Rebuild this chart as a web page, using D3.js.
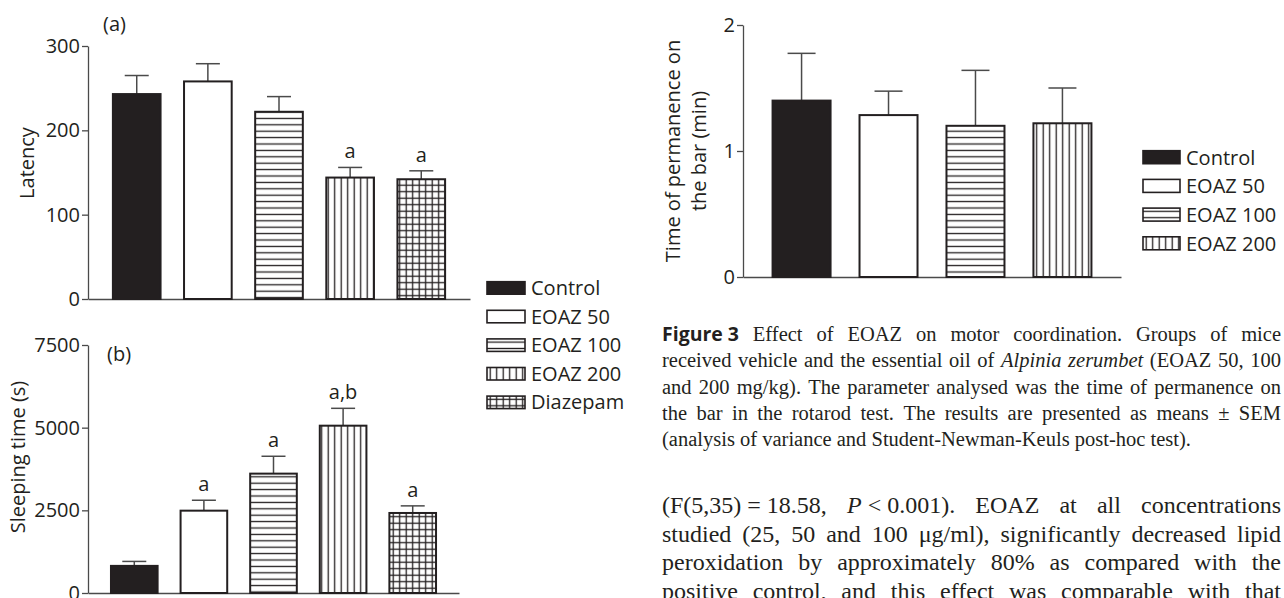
<!DOCTYPE html>
<html>
<head>
<meta charset="utf-8">
<script src="https://cdnjs.cloudflare.com/ajax/libs/d3/7.8.5/d3.min.js"></script>
<style>
  html, body { margin: 0; padding: 0; background: #fff; }
  svg { display: block; }
</style>
</head>
<body>
<svg id="fig" width="1284" height="598"></svg>
<script>
// ---- data ----
const groups = ["Control", "EOAZ 50", "EOAZ 100", "EOAZ 200", "Diazepam"];

// (a) latency
const latencyMean = [243, 258, 222, 144, 142];
const latencySem = [22, 21, 18, 12, 10];
const latencySig = ["", "", "", "a", "a"];
const latencyTicks = [0, 100, 200, 300];

// (b) sleeping time
const sleepMean = [820, 2490, 3610, 5060, 2420];
const sleepSem = [135, 315, 525, 525, 215];
const sleepSig = ["", "a", "a", "a,b", "a"];
const sleepTicks = [0, 2500, 5000, 7500];

// Figure 3 rotarod
const rotarodGroups = ["Control", "EOAZ 50", "EOAZ 100", "EOAZ 200"];
const rotarodMean = [1.40, 1.285, 1.20, 1.22];
const rotarodSem = [0.375, 0.19, 0.44, 0.28];
const rotarodTicks = [0, 1, 2];

// caption + body text ("~" = fixed space, "_" = italic, "^" = bold sans, "|" = run break)
const captionLines = [
  "^Figure~3 Effect of EOAZ on motor coordination. Groups of mice",
  "received vehicle and the essential oil of _Alpinia _zerumbet (EOAZ 50, 100",
  "and 200 mg/kg). The parameter analysed was the time of permanence on",
  "the bar in the rotarod test. The results are presented as means ± SEM",
  "(analysis of variance and Student-Newman-Keuls post-hoc test)."
];
const bodyLines = [
  "(F(5,35)~=~18.58, _P|~<~0.001). EOAZ at all concentrations",
  "studied (25, 50 and 100 μg/ml), significantly decreased lipid",
  "peroxidation by approximately 80% as compared with the",
  "positive control, and this effect was comparable with that"
];

// ---- setup ----
const svg = d3.select("#fig");
const INK = "#231f20";
const AXIS = "#4a4a4a";
const SANS = "'Open Sans', 'Noto Sans', sans-serif";
const SERIF = "'Liberation Serif', 'Times New Roman', serif";

const defs = svg.append("defs");

function pattern(id, w, h, draw) {
  const p = defs.append("pattern").attr("id", id)
    .attr("patternUnits", "userSpaceOnUse").attr("width", w).attr("height", h);
  p.append("rect").attr("width", w).attr("height", h).attr("fill", "#fff");
  draw(p);
}
pattern("p-h", 8, 6.4, p => p.append("line").attr("x1", 0).attr("x2", 8).attr("y1", 3.2).attr("y2", 3.2)
  .attr("stroke", INK).attr("stroke-width", 1.3));
pattern("p-v", 6.5, 8, p => p.append("line").attr("x1", 3.2).attr("x2", 3.2).attr("y1", 0).attr("y2", 8)
  .attr("stroke", INK).attr("stroke-width", 1.3));
pattern("p-grid", 6.5, 6.5, p => {
  p.append("line").attr("x1", 0).attr("x2", 6.5).attr("y1", 3.2).attr("y2", 3.2).attr("stroke", INK).attr("stroke-width", 1.3);
  p.append("line").attr("x1", 3.2).attr("x2", 3.2).attr("y1", 0).attr("y2", 6.5).attr("stroke", INK).attr("stroke-width", 1.3);
});
const fills = [INK, "#fff", "url(#p-h)", "url(#p-v)", "url(#p-grid)"];

function barPanel(o) {
  const n = o.means.length;
  const x = d3.scaleBand().domain(d3.range(n)).range([o.left, o.right])
    .paddingInner(o.pIn).paddingOuter(o.pOut);
  const y = d3.scaleLinear().domain([0, o.max]).range([o.bottom, o.top]);
  const g = svg.append("g");

  // axes
  const ya = g.append("g").attr("transform", `translate(${o.left},0)`)
    .call(d3.axisLeft(y).tickValues(o.ticks).tickFormat(d3.format("d"))
      .tickSize(6).tickPadding(2).tickSizeOuter(0));
  const xa = g.append("g").attr("transform", `translate(0,${o.bottom})`)
    .call(d3.axisBottom(x).tickValues([]).tickSizeOuter(0));
  [ya, xa].forEach(a => {
    a.selectAll("path, line").attr("stroke", AXIS).attr("stroke-width", 1.3);
    a.selectAll("text").attr("font-family", SANS).attr("font-size", 20).attr("fill", INK);
  });

  const cx = i => x(i) + x.bandwidth() / 2;
  // error bars (upper only)
  const eb = g.selectAll("g.err").data(o.means).join("g").attr("class", "err")
    .attr("stroke", AXIS).attr("stroke-width", 1.5);
  eb.append("line").attr("x1", (d, i) => cx(i)).attr("x2", (d, i) => cx(i))
    .attr("y1", d => y(d)).attr("y2", (d, i) => y(d + o.errs[i]));
  eb.append("line").attr("x1", (d, i) => cx(i) - o.capW / 2).attr("x2", (d, i) => cx(i) + o.capW / 2)
    .attr("y1", (d, i) => y(d + o.errs[i])).attr("y2", (d, i) => y(d + o.errs[i]));

  // bars
  g.selectAll("rect.bar").data(o.means).join("rect").attr("class", "bar")
    .attr("x", (d, i) => x(i)).attr("y", d => y(d))
    .attr("width", x.bandwidth()).attr("height", d => o.bottom - y(d))
    .attr("fill", (d, i) => fills[i]).attr("stroke", INK).attr("stroke-width", 2);

  // significance letters
  if (o.sig) {
    g.selectAll("text.sig").data(o.means).join("text").attr("class", "sig")
      .attr("x", (d, i) => cx(i)).attr("y", (d, i) => y(d + o.errs[i]) - 9)
      .attr("text-anchor", "middle").attr("font-family", SANS).attr("font-size", 20).attr("fill", INK)
      .text((d, i) => o.sig[i]);
  }
  return g;
}

function yLabel(lines, x, yc, step) {
  lines.forEach((t, i) => {
    svg.append("text").attr("transform", `translate(${x + i * step},${yc}) rotate(-90)`)
      .attr("text-anchor", "middle").attr("font-family", SANS).attr("font-size", 20).attr("fill", INK)
      .text(t);
  });
}

function legend(labels, x, y0, step, w, h) {
  const g = svg.append("g");
  const rows = g.selectAll("g").data(labels).join("g")
    .attr("transform", (d, i) => `translate(${x},${y0 + i * step})`);
  rows.append("rect").attr("width", w).attr("height", h)
    .attr("fill", (d, i) => fills[i]).attr("stroke", INK).attr("stroke-width", 1.6);
  rows.append("text").attr("x", w + 6).attr("y", h + 0.8)
    .attr("font-family", SANS).attr("font-size", 20).attr("fill", INK).text(d => d);
}

function textLine(str, x0, x1, y, size, justify) {
  const g = svg.append("g");
  const nodes = str.split(" ").map(tok => {
    const t = g.append("text").attr("y", y).attr("font-size", size)
      .attr("font-family", SERIF).attr("fill", INK);
    tok.split("|").forEach(run => {
      let s = run;
      const ts = t.append("tspan");
      if (s[0] === "_") { ts.attr("font-style", "italic"); s = s.slice(1); }
      else if (s[0] === "^") {
        ts.attr("font-family", SANS).attr("font-weight", 700).attr("font-size", size * 0.95);
        s = s.slice(1);
      }
      ts.text(s.replace(/~/g, "\u00a0"));
    });
    return t;
  });
  const widths = nodes.map(t => t.node().getComputedTextLength());
  const total = d3.sum(widths);
  const gap = justify && nodes.length > 1 ? (x1 - x0 - total) / (nodes.length - 1) : size * 0.25;
  let cx = x0;
  nodes.forEach((t, i) => { t.attr("x", cx); cx += widths[i] + gap; });
}

// ---- (a) latency ----
barPanel({ left: 88, right: 470, top: 46, bottom: 299, max: 300, ticks: latencyTicks,
  means: latencyMean, errs: latencySem, sig: latencySig, pIn: 0.33, pOut: 0.35, capW: 24 });
svg.append("text").attr("x", 103).attr("y", 31).attr("font-family", SANS).attr("font-size", 20)
  .attr("fill", INK).text("(a)");
yLabel(["Latency"], 34, 163, 0);

// ---- (b) sleeping time ----
barPanel({ left: 88, right: 459, top: 345, bottom: 593, max: 7500, ticks: sleepTicks,
  means: sleepMean, errs: sleepSem, sig: sleepSig, pIn: 0.33, pOut: 0.33, capW: 24 });
svg.append("text").attr("x", 107).attr("y", 361).attr("font-family", SANS).attr("font-size", 20)
  .attr("fill", INK).text("(b)");
yLabel(["Sleeping time (s)"], 25, 457, 0);

legend(groups, 487, 281.7, 28.6, 38, 12.5);

// ---- Figure 3 ----
barPanel({ left: 743, right: 1121, top: 25, bottom: 277, max: 2, ticks: rotarodTicks,
  means: rotarodMean, errs: rotarodSem, pIn: 0.333, pOut: 0.34, capW: 28 });
yLabel(["Time of permanence on", "the bar (min)"], 680, 151, 26);
legend(rotarodGroups, 1143, 150.7, 28.7, 37, 13);

// ---- caption & running text ----
captionLines.forEach((l, i) =>
  textLine(l, 662, 1281, 341 + i * 26.3, 20.5, i < captionLines.length - 1));
bodyLines.forEach((l, i) =>
  textLine(l, 662, 1281, 513 + i * 28.5, 24, true));
</script>
</body>
</html>
